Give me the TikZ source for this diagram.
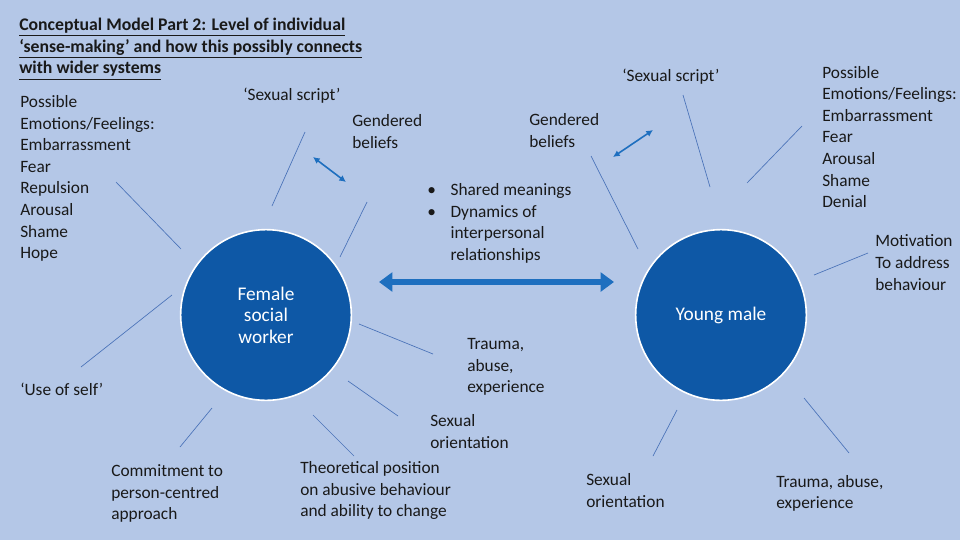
\documentclass[tikz,border=0pt]{standalone}
\usepackage{fontspec}
\setmainfont{Carlito}
\usetikzlibrary{arrows.meta}
\definecolor{bg}{HTML}{B4C7E7}
\definecolor{circ}{HTML}{0E58A6}
\definecolor{ln}{HTML}{4A72B8}
\definecolor{arr}{HTML}{1E6FBF}
\tikzset{
 txt/.style={anchor=west,align=left,inner sep=0pt,font=\fontsize{13}{16.2}\selectfont,text=black!90},
 ctxt/.style={align=center,inner sep=0pt,font=\fontsize{14.5}{16.2}\selectfont,text=white},
 spoke/.style={draw=ln,line width=0.5pt},
 small/.style={draw=arr,line width=1.2pt,{Latex[length=5pt,width=5pt]}-{Latex[length=5pt,width=5pt]}},
 big/.style={draw=arr,line width=5pt,{Triangle[length=10pt,width=14pt]}-{Triangle[length=10pt,width=14pt]}},
 person/.style={circle,fill=circ,draw=white,line width=1.2pt,minimum size=128pt,inner sep=0pt}
}
\newcommand{\ul}[1]{\underline{#1\vphantom{gp}}}
\begin{document}
\begin{tikzpicture}[x=0.75pt,y=-0.75pt]
\fill[bg] (0,0) rectangle (960,540);
\useasboundingbox (0,0) rectangle (960,540);
\node[person] (F) at (266,315) {};
\node[ctxt] (Ft) at (266,315) {Female\\social\\worker};
\node[person] (M) at (721,315) {};
\node[ctxt] (Mt) at (721,315) {Young male};
\node[txt,font=\fontsize{13.3}{16.2}\selectfont\bfseries] (title) at (19,49) {\ul{Conceptual Model Part 2: Level of individual}\\\ul{‘sense-making’ and how this possibly connects}\\\ul{with wider systems}};
\node[txt] (lemo) at (20,178.5) {Possible\\Emotions/Feelings:\\Embarrassment\\Fear\\Repulsion\\Arousal\\Shame\\Hope};
\node[txt] (ss1) at (243,96) {‘Sexual script’};
\node[txt] (ss2) at (622,77) {‘Sexual script’};
\node[txt] (gb1) at (352,131.5) {Gendered\\beliefs};
\node[txt] (gb2) at (529,130.5) {Gendered\\beliefs};
\node[txt] (bul) at (427,223.5) {\begin{tabular}{@{}l@{\hspace{11pt}}l@{}}•&Shared meanings\\•&Dynamics of\\&interpersonal\\&relationships\end{tabular}};
\node[txt] (tr1) at (467,367) {Trauma,\\abuse,\\experience};
\node[txt] (self) at (20,389) {‘Use of self’};
\node[txt] (so1) at (430,431.5) {Sexual\\orientation};
\node[txt] (com) at (111,493.5) {Commitment to\\person-centred\\approach};
\node[txt] (th) at (300,490.5) {Theoretical position\\on abusive behaviour\\and ability to change};
\node[txt] (so2) at (586,490.5) {Sexual\\orientation};
\node[txt] (tr2) at (776,493.5) {Trauma, abuse,\\experience};
\node[txt] (mot) at (875,262.5) {Motivation\\To address\\behaviour};
\node[txt] (remo) at (822,137) {Possible\\Emotions/Feelings:\\Embarrassment\\Fear\\Arousal\\Shame\\Denial};
% spokes
\coordinate (a1) at (116,182); \coordinate (a2) at (181,249);
\coordinate (b1) at (172,295); \coordinate (b2) at (81,367);
\coordinate (c1) at (212,408); \coordinate (c2) at (180,447);
\coordinate (d1) at (313,415); \coordinate (d2) at (354,456);
\coordinate (e1) at (348,381); \coordinate (e2) at (398,416);
\coordinate (f1) at (359,324); \coordinate (f2) at (433,354);
\coordinate (g1) at (367,202); \coordinate (g2) at (340,257);
\coordinate (h1) at (305,132); \coordinate (h2) at (272,206);
\coordinate (i1) at (683,95); \coordinate (i2) at (710,187);
\coordinate (j1) at (802,126); \coordinate (j2) at (747,183);
\coordinate (k1) at (591,156); \coordinate (k2) at (638,249);
\coordinate (l1) at (868,253); \coordinate (l2) at (814,275);
\coordinate (m1) at (804,398); \coordinate (m2) at (849,453);
\coordinate (n1) at (677,410); \coordinate (n2) at (653,456);
\foreach \s in {a,b,c,d,e,f,g,h,i,j,k,l,m,n} \draw[spoke] (\s1) -- (\s2);
% arrows
\coordinate (s1) at (313,157); \coordinate (s2) at (346,182);
\draw[small] (s1) -- (s2);
\coordinate (t1) at (613,157); \coordinate (t2) at (653,130);
\draw[small] (t1) -- (t2);
\coordinate (u1) at (379,282); \coordinate (u2) at (614,282);
\draw[big] (u1) -- (u2);
\end{tikzpicture}
\end{document}
